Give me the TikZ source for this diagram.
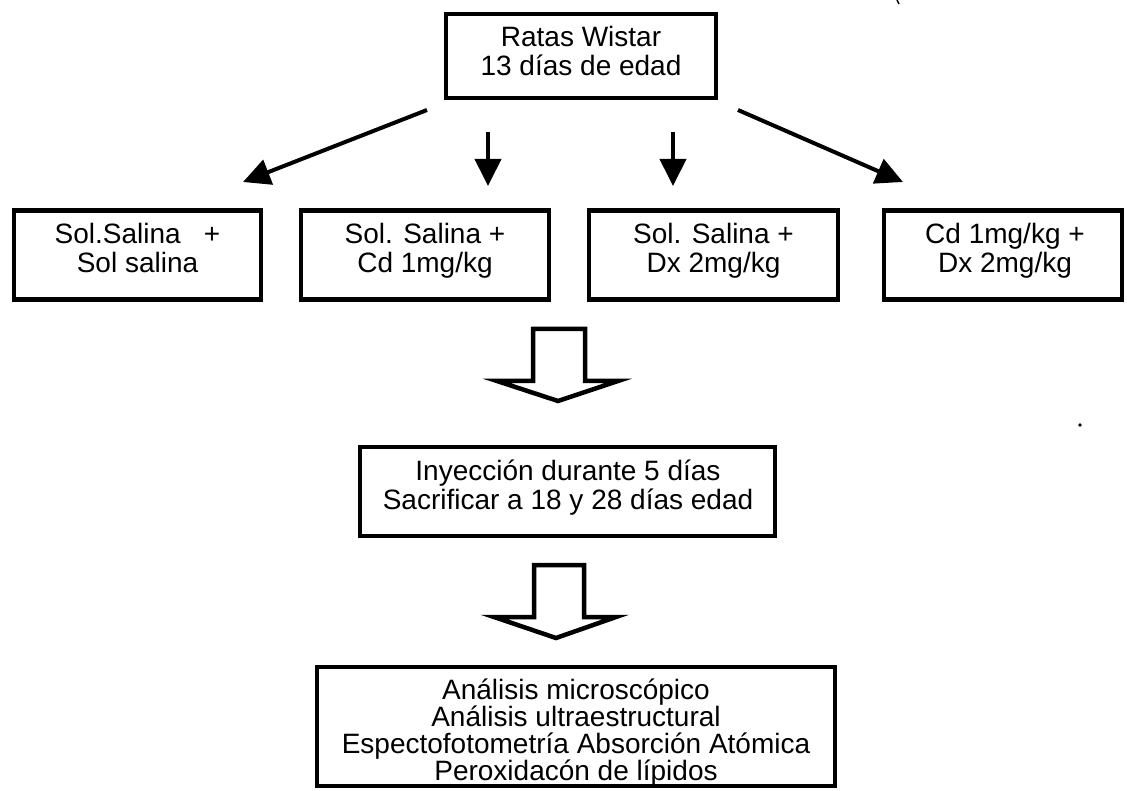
\documentclass[tikz,border=0pt]{standalone}
\usepackage{fontspec}
\setmainfont{Liberation Sans}
\usetikzlibrary{arrows.meta}
\begin{document}
\begin{tikzpicture}[x=1pt,y=-1pt,
  box/.style={draw, line width=4.5pt, inner sep=0pt},
  lbl/.style={align=center, inner sep=0pt, font=\fontsize{28}{29}\selectfont},
  lblb/.style={align=center, inner sep=0pt, font=\fontsize{28}{27}\selectfont},
  arr/.style={line width=4pt, -{Triangle[length=27pt,width=26pt]}},
  blk/.style={draw, line width=4.5pt, fill=white, line join=miter}]
\useasboundingbox (0,0) rectangle (1127,791);

% boxes
\node[box, minimum width=270pt, minimum height=84pt] (top) at (581,56) {};
\node[box, minimum width=247pt, minimum height=89pt] (b1) at (137.5,255) {};
\node[box, minimum width=248pt, minimum height=89pt] (b2) at (425,255) {};
\node[box, minimum width=249pt, minimum height=89pt] (b3) at (713.5,255) {};
\node[box, minimum width=238pt, minimum height=89pt] (b4) at (1003,255) {};
\node[box, minimum width=415pt, minimum height=89pt] (iny) at (567.5,491.5) {};
\node[box, minimum width=518pt, minimum height=119pt] (fin) at (576,726.5) {};

% texts
\node[lbl] (ttop) at (581,51) {Ratas Wistar\\13 días de edad};
\node[lbl] (t1) at (137.5,248) {Sol.Salina\ \ \ +\\Sol salina};
\node[lbl] (t2) at (425,250.5) {Sol. Salina +\\Cd 1mg/kg};
\node[lbl] (t3) at (713.5,250.5) {Sol. Salina +\\Dx 2mg/kg};
\node[lbl] (t4) at (1005,250.5) {Cd 1mg/kg +\\Dx 2mg/kg};
\node[lbl] (tiny) at (568,488) {Inyección durante 5 días\\Sacrificar a 18 y 28 días edad};
\node[lblb] (tfin) at (576,733) {Análisis microscópico\\Análisis ultraestructural\\Espectofotometría Absorción Atómica\\Peroxidacón de lípidos};

% connector end points
\coordinate (s1) at (427,110); \coordinate (e1) at (243,182);
\coordinate (s2) at (488,132); \coordinate (e2) at (488,186);
\coordinate (s3) at (673,132); \coordinate (e3) at (673,186);
\coordinate (s4) at (738,110); \coordinate (e4) at (903,182);

\draw[arr] (s1) -- (e1);
\draw[arr] (s2) -- (e2);
\draw[arr] (s3) -- (e3);
\draw[arr] (s4) -- (e4);

% block arrows
\draw[blk] (533,329) -- (585,329) -- (585,381) -- (618,381) -- (558,401) -- (497,381) -- (533,381) -- cycle;
\draw[blk] (534,565) -- (584,565) -- (584,617) -- (616,617) -- (556,638) -- (494,617) -- (534,617) -- cycle;

% scan specks
\fill (1080,425) circle (1.8pt);
\draw[line width=1.5pt] (897,0) -- (899,4);
\end{tikzpicture}
\end{document}
